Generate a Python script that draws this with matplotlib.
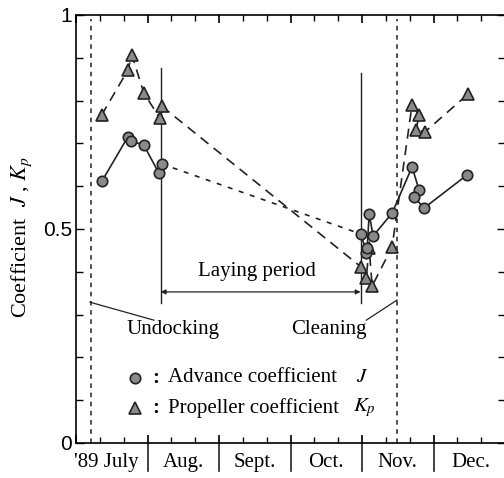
import matplotlib
matplotlib.use("Agg")
import matplotlib.pyplot as plt
import numpy as np
from matplotlib.transforms import blended_transform_factory

# ---- data (x in months from 1 July 1989) ----
months = ["'89 July", "Aug.", "Sept.", "Oct.", "Nov.", "Dec."]

j_x1 = [0.363, 0.725, 0.767, 0.948, 1.158, 1.199]
j_y1 = [0.612, 0.715, 0.706, 0.696, 0.631, 0.652]
j_x2 = [3.989, 4.059, 4.073, 4.100, 4.156, 4.421, 4.700, 4.798, 4.728, 4.868, 5.467]
j_y2 = [0.488, 0.444, 0.456, 0.535, 0.484, 0.537, 0.645, 0.591, 0.575, 0.549, 0.626]

kp_x1 = [0.358, 0.725, 0.781, 0.948, 1.172, 1.199]
kp_y1 = [0.766, 0.871, 0.907, 0.818, 0.759, 0.787]
kp_x2 = [3.989, 4.059, 4.100, 4.142, 4.421, 4.700, 4.798, 4.756, 4.882, 5.481]
kp_y2 = [0.411, 0.386, 0.456, 0.367, 0.458, 0.790, 0.766, 0.731, 0.727, 0.815]

dock_x = [0.209, 4.491]          # dotted vertical lines
event_x = [1.185, 3.98]          # undocking / cleaning

serif = "Liberation Serif"
sans = "Liberation Sans"
fs = 15

fig = plt.figure(figsize=(5.04, 4.78), dpi=100)
ax = fig.add_axes([76/504, 35/478, 429/504, 428/478])
ax.set_xlim(0, 6)
ax.set_ylim(0, 1)

mfc = "#8a8a8a"
mec = "#222222"

# Kp
kp_style = dict(color="#222222", lw=1.2, dashes=(6, 4))
ax.plot(kp_x1, kp_y1, **kp_style, zorder=2)
ax.plot([kp_x1[-1], kp_x2[0]], [kp_y1[-1], kp_y2[0]], **kp_style, zorder=2)
ax.plot(kp_x2, kp_y2, **kp_style, zorder=2)
ax.plot(kp_x1 + kp_x2, kp_y1 + kp_y2, ls="none", marker="^", ms=8.5,
        mfc=mfc, mec=mec, mew=1.2, zorder=4)

# J
ax.plot(j_x1, j_y1, color="#222222", lw=1.2, zorder=2)
ax.plot([j_x1[-1], j_x2[0]], [j_y1[-1], j_y2[0]], color="#222222", lw=1.2,
        dashes=(3, 4), zorder=2)
ax.plot(j_x2, j_y2, color="#222222", lw=1.2, zorder=2)
ax.plot(j_x1 + j_x2, j_y1 + j_y2, ls="none", marker="o", ms=7.5,
        mfc=mfc, mec=mec, mew=1.2, zorder=5)

# vertical dotted lines
for xv in dock_x:
    ax.axvline(xv, color="#222222", lw=1.1, dashes=(3, 3), ymax=0.99)

# undocking / cleaning lines
ax.plot([event_x[0], event_x[0]], [0.327, 0.876], color="#222222", lw=1.0)
ax.plot([event_x[1], event_x[1]], [0.327, 0.864], color="#222222", lw=1.0)
ax.annotate("", xy=(event_x[0], 0.353), xytext=(event_x[1], 0.353),
            arrowprops=dict(arrowstyle="<|-|>", color="#222222", lw=0.9,
                            mutation_scale=7, shrinkA=0, shrinkB=0))
ax.text((event_x[0] + event_x[1]) / 2 - 0.05, 0.40, "Laying period",
        family=serif, fontsize=fs, ha="center", va="center")

ax.plot([0.195, 1.09], [0.329, 0.287], color="#222222", lw=0.9)
ax.text(0.711, 0.266, "Undocking", family=serif, fontsize=fs,
        ha="left", va="center")
ax.plot([4.06, 4.49], [0.287, 0.334], color="#222222", lw=0.9)
ax.text(4.06, 0.266, "Cleaning", family=serif, fontsize=fs,
        ha="right", va="center")

# legend
ax.plot([0.823], [0.152], ls="none", marker="o", ms=7.5, mfc=mfc, mec=mec, mew=1.2)
ax.plot([0.823], [0.082], ls="none", marker="^", ms=8.5, mfc=mfc, mec=mec, mew=1.2)
ax.text(1.07, 0.152, ":", family=serif, fontsize=fs, ha="left", va="center", weight="bold")
ax.text(1.07, 0.082, ":", family=serif, fontsize=fs, ha="left", va="center", weight="bold")
ax.text(1.28, 0.152, "Advance coefficient", family=serif, fontsize=fs,
        ha="left", va="center")
ax.text(1.28, 0.082, "Propeller coefficient", family=serif, fontsize=fs,
        ha="left", va="center")
ax.text(3.92, 0.152, "$J$", family=serif, fontsize=fs, ha="left", va="center",
        math_fontfamily="stix")
ax.text(3.88, 0.082, "$K_p$", family=serif, fontsize=fs, ha="left", va="center",
        math_fontfamily="stix")

# axes styling
for s in ax.spines.values():
    s.set_linewidth(1.2)
ax.spines["right"].set_visible(False)
ax.set_yticks([0, 0.5, 1])
ax.set_yticklabels(["0", "0.5", "1"], fontsize=15, family=sans)
ax.set_yticks(np.arange(0, 1.01, 0.1), minor=True)
ax.tick_params(axis="y", which="both", direction="in", left=True, right=True)
ax.tick_params(axis="y", which="major", length=6, width=1.0, pad=3)
ax.tick_params(axis="y", which="minor", length=5, width=1.0)

ax.set_xticks(np.arange(0, 7, 1))
ax.set_xticklabels([])
ax.set_xticks(np.arange(0, 6, 1/3), minor=True)
ax.tick_params(axis="x", which="both", direction="in", top=True, bottom=True)
ax.tick_params(axis="x", which="major", length=6, width=1.2)
ax.tick_params(axis="x", which="minor", length=4, width=1.0)

trans = blended_transform_factory(ax.transData, ax.transAxes)
label_shift = [-0.07, 0, 0, 0, 0, 0.02]
for i, m in enumerate(months):
    ax.text(i + 0.5 + label_shift[i], -0.045, m, family=serif, fontsize=fs,
            ha="center", va="center", transform=trans)
for b in range(1, 6):
    ax.plot([b, b], [-0.065, 0.012], color="#222222", lw=1.2,
            transform=trans, clip_on=False)

fig.text(22/504, 1 - 237/478, "Coefficient  $J$ , $K_p$", rotation=90,
         family=serif, fontsize=16, ha="center", va="center",
         math_fontfamily="stix")

fig.savefig("out.png", dpi=100)
